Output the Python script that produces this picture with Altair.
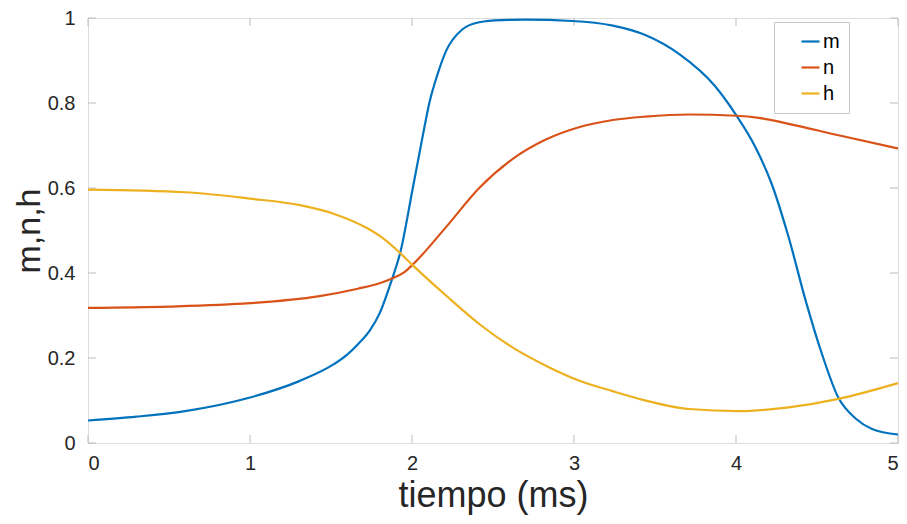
import altair as alt
import pandas as pd

# ---- data ----
t_m = [0, 0.3, 0.6, 1.0, 1.3, 1.52, 1.6, 1.665, 1.74, 1.80, 1.87, 1.93, 2.005, 2.066, 2.107,
       2.158, 2.21, 2.31, 2.415, 2.55, 2.7, 2.99, 3.24, 3.44, 3.65, 3.87, 4.0, 4.12, 4.22,
       4.325, 4.43, 4.53, 4.63, 4.74, 4.84, 5.0]
m_vals = [0.053, 0.062, 0.075, 0.107, 0.145, 0.186, 0.208, 0.232, 0.265, 0.305, 0.378, 0.452,
          0.600, 0.722, 0.800, 0.868, 0.922, 0.973, 0.990, 0.995, 0.996, 0.993, 0.982, 0.960,
          0.915, 0.840, 0.772, 0.696, 0.610, 0.484, 0.335, 0.210, 0.108, 0.057, 0.033, 0.02]

t_n = [0, 0.5, 1.0, 1.42, 1.665, 1.80, 1.87, 1.953, 2.005, 2.21, 2.415, 2.62, 2.826, 3.03,
       3.24, 3.44, 3.71, 4.0, 4.14, 4.325, 4.633, 5.0]
n_vals = [0.318, 0.321, 0.329, 0.345, 0.363, 0.376, 0.386, 0.402, 0.420, 0.508, 0.600,
          0.668, 0.714, 0.743, 0.760, 0.768, 0.773, 0.770, 0.765, 0.751, 0.724, 0.693]

t_h = [0, 0.6, 1.0, 1.315, 1.52, 1.73, 1.82, 1.91, 2.005, 2.21, 2.415, 2.62, 2.826, 3.03,
       3.237, 3.40, 3.71, 4.017, 4.325, 4.633, 5.0]
h_vals = [0.596, 0.590, 0.575, 0.559, 0.539, 0.504, 0.482, 0.453, 0.418, 0.347, 0.280, 0.225,
          0.182, 0.147, 0.122, 0.104, 0.080, 0.075, 0.084, 0.104, 0.141]

series_names = ["m", "n", "h"]
series_colors = ["#0072BD", "#D95319", "#EDB120"]
x_ticks = [0, 1, 2, 3, 4, 5]
y_ticks = [0, 0.2, 0.4, 0.6, 0.8, 1]

rows = []
for name, ts, vs in zip(series_names, [t_m, t_n, t_h], [m_vals, n_vals, h_vals]):
    for i, (t, v) in enumerate(zip(ts, vs)):
        rows.append({"t": t, "v": v, "s": name, "i": i})
df = pd.DataFrame(rows)
xt = pd.DataFrame({"t": x_ticks})
yt = pd.DataFrame({"v": y_ticks})

W, H = 810, 425
FONT = "Liberation Sans"
GRAY = "#bdbdbd"
TXT = "#262626"

xscale = alt.Scale(domain=[0, 5], nice=False, zero=False)
yscale = alt.Scale(domain=[0, 1], nice=False, zero=False)

lines = alt.Chart(df).mark_line(strokeWidth=2.2, interpolate="monotone").encode(
    x=alt.X("t:Q", scale=xscale,
            axis=alt.Axis(values=x_ticks, format="d", title="tiempo (ms)", grid=False,
                          domain=False, ticks=False, labelFontSize=20, labelPadding=10,
                          labelColor=TXT, titleFontSize=36, titleFontWeight="normal",
                          titleColor=TXT, titlePadding=5, labelFont=FONT, titleFont=FONT)),
    y=alt.Y("v:Q", scale=yscale,
            axis=alt.Axis(values=y_ticks, format="~g", title="m,n,h", grid=False,
                          domain=False, ticks=False, labelFontSize=20, labelPadding=13,
                          labelColor=TXT, titleFontSize=34, titleFontWeight="normal",
                          titleColor=TXT, titlePadding=1, labelFont=FONT, titleFont=FONT)),
    color=alt.Color("s:N", scale=alt.Scale(domain=series_names, range=series_colors),
                    legend=alt.Legend(title=None, orient="none", legendX=686, legendY=4,
                                      symbolType="stroke", symbolSize=324,
                                      symbolStrokeWidth=2.2, symbolOffset=17,
                                      labelFontSize=20, labelFont=FONT, labelColor="#000000",
                                      labelOffset=2, rowPadding=5, padding=9,
                                      strokeColor="#c8c8c8", fillColor="#ffffff",
                                      labelExpr="datum.label + '\u2003\u2002'")),
    order="i:Q",
)

tick_len = 8
xb = alt.Chart(xt).mark_rule(color=GRAY, strokeWidth=1).encode(
    x=alt.X("t:Q", scale=xscale), y=alt.value(H), y2=alt.value(H - tick_len))
xtop = alt.Chart(xt).mark_rule(color=GRAY, strokeWidth=1).encode(
    x=alt.X("t:Q", scale=xscale), y=alt.value(0), y2=alt.value(tick_len))
yl = alt.Chart(yt).mark_rule(color=GRAY, strokeWidth=1).encode(
    y=alt.Y("v:Q", scale=yscale), x=alt.value(0), x2=alt.value(tick_len))
yr = alt.Chart(yt).mark_rule(color=GRAY, strokeWidth=1).encode(
    y=alt.Y("v:Q", scale=yscale), x=alt.value(W), x2=alt.value(W - tick_len))

chart = alt.layer(xb, xtop, yl, yr, lines).properties(
    width=W, height=H,
    autosize=alt.AutoSizeParams(type="none"),
    padding={"left": 80, "top": 10, "right": 1, "bottom": 72},
).configure_view(stroke=GRAY, strokeWidth=1.2).configure(background="white")

chart.save("out.html", embed_options={"renderer": "svg", "actions": False})
